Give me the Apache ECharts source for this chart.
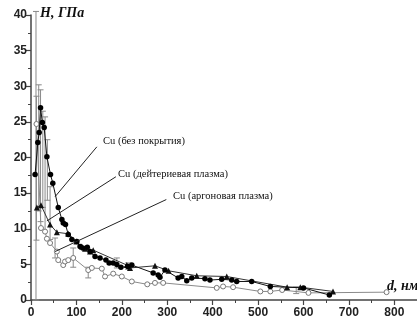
<!DOCTYPE html>
<html>
<head>
<meta charset="utf-8">
<script src="https://cdn.jsdelivr.net/npm/echarts@6/dist/echarts.min.js"></script>
<style>
    html, body { margin: 0; padding: 0; background: #fff; }
    #chart { width: 417px; height: 323px; }
</style>
</head>
<body>
<div id="chart"></div>
<script>
// Cu (без покрытия) - чёрные кружки, [d, H]
let bare = [
    [9, 17.6], [15, 22.1], [18, 23.5], [21, 27], [25, 24.9], [29, 24.2], [35, 20.1], [43, 17.6],
    [48, 16.4], [60, 13], [68, 11.3], [71, 10.8], [76, 10.6], [82, 9.2], [90, 8.5], [101, 8.2],
    [108, 7.5], [114, 7.3], [124, 7.4], [130, 6.8], [141, 6.1], [152, 5.9], [165, 5.6], [172, 5.2],
    [181, 5.2], [189, 5.0], [198, 4.6], [213, 4.7], [222, 4.9], [269, 3.8], [280, 3.5], [284, 3.2],
    [295, 4.2], [324, 3.1], [332, 3.3], [343, 2.7], [354, 3.1], [383, 3.0], [394, 2.8], [420, 2.9],
    [442, 2.8], [453, 2.6], [486, 2.6], [527, 1.9], [600, 1.7], [657, 0.7]
];
// Cu (дейтериевая плазма) - треугольники
let deuterium = [
    [13, 13.0], [22, 13.3], [42, 10.6], [57, 9.5], [82, 9.3], [100, 8.2], [112, 7.5], [119, 7.2],
    [130, 6.8], [137, 7.0], [211, 4.9], [218, 4.5], [273, 4.8], [303, 4.1], [365, 3.4], [431, 3.3],
    [564, 1.8], [593, 1.8], [665, 1.2]
];
// Cu (аргоновая плазма) - светлые кружки
let argon = [
    [12, 24.7], [22, 10.1], [31, 9.6], [35, 8.6], [42, 8.0], [57, 6.8], [60, 5.6], [71, 4.9],
    [75, 5.4], [82, 5.6], [93, 5.9], [126, 4.2], [134, 4.5], [156, 4.4], [163, 3.3], [181, 3.7],
    [200, 3.3], [222, 2.6], [256, 2.2], [273, 2.4], [291, 2.4], [409, 1.7], [423, 1.9], [445, 1.8],
    [505, 1.2], [527, 1.2], [553, 1.4], [611, 1.0], [783, 1.1]
];
// погрешности: [d, Hmin, Hmax]
let errors = [
    [11, 0, 40.5], [12, 8.4, 28.6], [17, 12.5, 30.2], [21, 11, 29.5], [26, 13, 26.5],
    [31, 9.6, 25.7], [36, 14, 22.5], [42, 8.5, 15.9], [53, 5.9, 8.7], [93, 4.6, 7.3],
    [126, 3.1, 4.6], [189, 4.5, 5.9], [214, 4.3, 5.2], [584, 0.9, 1.8]
];
let xTicks = [0, 100, 200, 300, 400, 500, 600, 700, 800];
let yTicks = [0, 5, 10, 15, 20, 25, 30, 35, 40];
let seriesNames = ['Cu (без покрытия)', 'Cu (дейтериевая плазма)', 'Cu (аргоновая плазма)'];

let myChart = echarts.init(document.getElementById('chart'));

let axisFont = {fontFamily: 'Liberation Sans', fontWeight: 'bold', fontSize: 12, color: '#222'};
let noteFont = '10.5px "Liberation Serif"';

let option = {
    animation: false,
    grid: {left: 31, right: 0, top: 15, bottom: 23},
    xAxis: {
        type: 'value',
        min: 0,
        max: 850,
        interval: 100,
        axisLine: {lineStyle: {color: '#444', width: 1.5}},
        axisTick: {customValues: xTicks, length: 5, lineStyle: {color: '#444', width: 1.2}},
        minorTick: {show: true, splitNumber: 2, length: 3, lineStyle: {color: '#444', width: 1}},
        axisLabel: Object.assign({customValues: xTicks, margin: 7}, axisFont),
        splitLine: {show: false}
    },
    yAxis: {
        type: 'value',
        min: 0,
        max: 40,
        interval: 5,
        axisLine: {show: true, lineStyle: {color: '#444', width: 1.5}},
        axisTick: {show: true, length: 6, lineStyle: {color: '#444', width: 1.2}},
        minorTick: {show: true, splitNumber: 2, length: 3, lineStyle: {color: '#444', width: 1}},
        axisLabel: Object.assign({margin: 4, formatter: (v) => yTicks.indexOf(v) >= 0 ? v : ''}, axisFont),
        splitLine: {show: false}
    },
    graphic: [
        {type: 'text', left: 40, top: 6, style: {text: 'H, ГПа', font: 'italic bold 14px "Liberation Serif"', fill: '#111'}},
        {type: 'text', left: 387, top: 279, style: {text: 'd, нм', font: 'italic bold 14px "Liberation Serif"', fill: '#111'}},
        {type: 'text', left: 103, top: 136, style: {text: seriesNames[0], font: noteFont, fill: '#111'}},
        {type: 'text', left: 118, top: 169, style: {text: seriesNames[1], font: noteFont, fill: '#111'}},
        {type: 'text', left: 173, top: 191, style: {text: seriesNames[2], font: noteFont, fill: '#111'}}
    ],
    series: [
        {
            type: 'custom',
            z: 1,
            data: errors,
            renderItem: function (params, api) {
                let lo = api.coord([api.value(0), api.value(1)]);
                let hi = api.coord([api.value(0), api.value(2)]);
                let w = 3;
                let st = {stroke: '#8a8a8a', lineWidth: 1};
                return {
                    type: 'group',
                    children: [
                        {type: 'line', shape: {x1: lo[0], y1: lo[1], x2: hi[0], y2: hi[1]}, style: st},
                        {type: 'line', shape: {x1: lo[0] - w, y1: lo[1], x2: lo[0] + w, y2: lo[1]}, style: st},
                        {type: 'line', shape: {x1: hi[0] - w, y1: hi[1], x2: hi[0] + w, y2: hi[1]}, style: st}
                    ]
                };
            }
        },
        {
            name: seriesNames[2],
            type: 'line',
            z: 2,
            data: argon,
            symbol: 'circle',
            symbolSize: 5,
            itemStyle: {color: '#fff', borderColor: '#777', borderWidth: 1},
            lineStyle: {color: '#8a8a8a', width: 1}
        },
        {
            name: seriesNames[1],
            type: 'line',
            z: 3,
            data: deuterium,
            symbol: 'triangle',
            symbolSize: 6,
            itemStyle: {color: '#111'},
            lineStyle: {color: '#333', width: 1}
        },
        {
            name: seriesNames[0],
            type: 'line',
            z: 4,
            data: bare,
            symbol: 'circle',
            symbolSize: 5.5,
            itemStyle: {color: '#000'},
            lineStyle: {color: '#111', width: 1},
            // выноски к подписям
            markLine: {
                silent: true,
                symbol: 'none',
                label: {show: false},
                lineStyle: {color: '#222', width: 1, type: 'solid'},
                data: [
                    [{coord: [145, 21.5]}, {coord: [53, 14.5]}],
                    [{coord: [187, 17.3]}, {coord: [35, 11.1]}],
                    [{coord: [298, 14.1]}, {coord: [53, 6.8]}]
                ]
            }
        }
    ]
};
myChart.setOption(option);
</script>
</body>
</html>
